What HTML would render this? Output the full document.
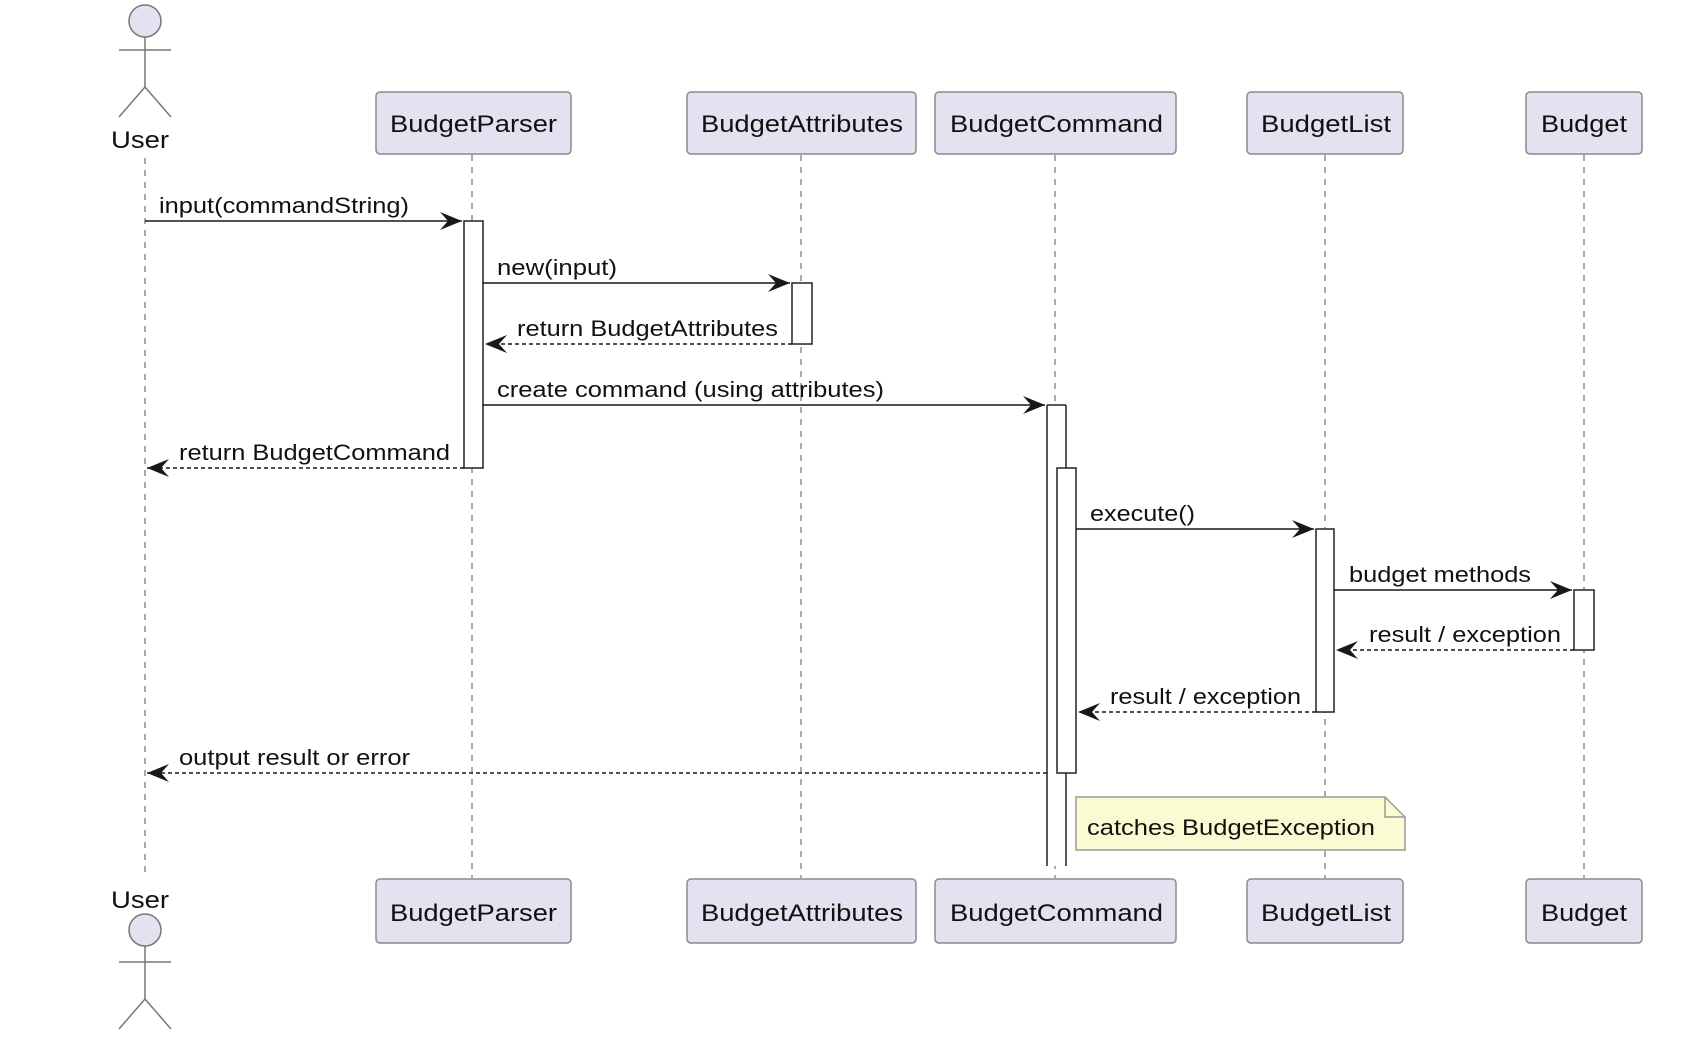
<!DOCTYPE html>
<html><head><meta charset="utf-8"><style>html,body{margin:0;padding:0;background:#fff}svg{display:block}text{font-family:"Liberation Sans",sans-serif;fill:#111}</style></head><body>
<svg width="1708" height="1063" viewBox="0 0 1708 1063" xmlns="http://www.w3.org/2000/svg">
<defs>
<marker id="a" markerWidth="24" markerHeight="18" refX="22" refY="9" orient="auto" markerUnits="userSpaceOnUse"><polygon points="0,0 22,9 0,18 8,9" fill="#181818"/></marker>
</defs>
<g stroke="#555" stroke-width="1" stroke-dasharray="6,6">
<line x1="145" y1="158" x2="145" y2="875"/>
<line x1="472" y1="155" x2="472" y2="878"/>
<line x1="801" y1="155" x2="801" y2="878"/>
<line x1="1055" y1="155" x2="1055" y2="878"/>
<line x1="1325" y1="155" x2="1325" y2="878"/>
<line x1="1584" y1="155" x2="1584" y2="878"/>
</g>
<g fill="#E2E2F0" stroke="#8a8a8a" stroke-width="1.5">
<rect x="376" y="92" width="195" height="62" rx="4"/>
<rect x="687" y="92" width="229" height="62" rx="4"/>
<rect x="935" y="92" width="241" height="62" rx="4"/>
<rect x="1247" y="92" width="156" height="62" rx="4"/>
<rect x="1526" y="92" width="116" height="62" rx="4"/>
<rect x="376" y="879" width="195" height="64" rx="4"/>
<rect x="687" y="879" width="229" height="64" rx="4"/>
<rect x="935" y="879" width="241" height="64" rx="4"/>
<rect x="1247" y="879" width="156" height="64" rx="4"/>
<rect x="1526" y="879" width="116" height="64" rx="4"/>
</g>
<g font-size="24">
<text x="390" y="132" textLength="167" lengthAdjust="spacingAndGlyphs">BudgetParser</text>
<text x="701" y="132" textLength="202" lengthAdjust="spacingAndGlyphs">BudgetAttributes</text>
<text x="950" y="132" textLength="213" lengthAdjust="spacingAndGlyphs">BudgetCommand</text>
<text x="1261" y="132" textLength="130" lengthAdjust="spacingAndGlyphs">BudgetList</text>
<text x="1541" y="132" textLength="86" lengthAdjust="spacingAndGlyphs">Budget</text>
<text x="390" y="921" textLength="167" lengthAdjust="spacingAndGlyphs">BudgetParser</text>
<text x="701" y="921" textLength="202" lengthAdjust="spacingAndGlyphs">BudgetAttributes</text>
<text x="950" y="921" textLength="213" lengthAdjust="spacingAndGlyphs">BudgetCommand</text>
<text x="1261" y="921" textLength="130" lengthAdjust="spacingAndGlyphs">BudgetList</text>
<text x="1541" y="921" textLength="86" lengthAdjust="spacingAndGlyphs">Budget</text>
<text x="111" y="148" textLength="58" lengthAdjust="spacingAndGlyphs">User</text>
<text x="111" y="908" textLength="58" lengthAdjust="spacingAndGlyphs">User</text>
</g>
<g stroke="#777" stroke-width="1.5" fill="none">
<circle cx="145" cy="21" r="16" fill="#E2E2F0"/>
<line x1="145" y1="37" x2="145" y2="87"/><line x1="119" y1="50" x2="171" y2="50"/>
<polyline points="119,117 145,87 171,117"/>
<circle cx="145" cy="930" r="16" fill="#E2E2F0"/>
<line x1="145" y1="946" x2="145" y2="999"/><line x1="119" y1="962" x2="171" y2="962"/>
<polyline points="119,1029 145,999 171,1029"/>
</g>
<rect x="1047" y="405" width="19" height="461" fill="#fff" stroke="none"/>
<g fill="#fff" stroke="#222" stroke-width="1.5">
<rect x="464" y="221" width="19" height="247"/>
<rect x="792" y="283" width="20" height="61"/>
<line x1="1047" y1="405" x2="1047" y2="866"/><line x1="1066" y1="405" x2="1066" y2="866"/><line x1="1047" y1="405" x2="1066" y2="405"/>
<rect x="1057" y="468" width="19" height="305"/>
<rect x="1316" y="529" width="18" height="183"/>
<rect x="1574" y="590" width="20" height="60"/>
</g>
<g stroke="#181818" stroke-width="1.5" fill="none">
<line x1="145" y1="221" x2="462" y2="221" marker-end="url(#a)"/>
<line x1="483" y1="283" x2="790" y2="283" marker-end="url(#a)"/>
<line x1="792" y1="344" x2="485" y2="344" stroke-dasharray="4,3" marker-end="url(#a)"/>
<line x1="483" y1="405" x2="1045" y2="405" marker-end="url(#a)"/>
<line x1="464" y1="468" x2="147" y2="468" stroke-dasharray="4,3" marker-end="url(#a)"/>
<line x1="1076" y1="529" x2="1314" y2="529" marker-end="url(#a)"/>
<line x1="1334" y1="590" x2="1572" y2="590" marker-end="url(#a)"/>
<line x1="1574" y1="650" x2="1336" y2="650" stroke-dasharray="4,3" marker-end="url(#a)"/>
<line x1="1316" y1="712" x2="1078" y2="712" stroke-dasharray="4,3" marker-end="url(#a)"/>
<line x1="1047" y1="773" x2="147" y2="773" stroke-dasharray="4,3" marker-end="url(#a)"/>
</g>
<g font-size="22">
<text x="159" y="213" textLength="250" lengthAdjust="spacingAndGlyphs">input(commandString)</text>
<text x="497" y="275" textLength="120" lengthAdjust="spacingAndGlyphs">new(input)</text>
<text x="517" y="336" textLength="261" lengthAdjust="spacingAndGlyphs">return BudgetAttributes</text>
<text x="497" y="397" textLength="387" lengthAdjust="spacingAndGlyphs">create command (using attributes)</text>
<text x="179" y="460" textLength="271" lengthAdjust="spacingAndGlyphs">return BudgetCommand</text>
<text x="1090" y="521" textLength="105" lengthAdjust="spacingAndGlyphs">execute()</text>
<text x="1349" y="582" textLength="182" lengthAdjust="spacingAndGlyphs">budget methods</text>
<text x="1369" y="642" textLength="192" lengthAdjust="spacingAndGlyphs">result / exception</text>
<text x="1110" y="704" textLength="191" lengthAdjust="spacingAndGlyphs">result / exception</text>
<text x="179" y="765" textLength="231" lengthAdjust="spacingAndGlyphs">output result or error</text>
</g>
<path d="M1076,797 L1385,797 L1405,817 L1405,850 L1076,850 Z" fill="#FBFBD3" stroke="#999" stroke-width="1.5"/>
<path d="M1385,797 L1385,817 L1405,817" fill="none" stroke="#999" stroke-width="1.5"/>
<text x="1087" y="835" font-size="22" textLength="288" lengthAdjust="spacingAndGlyphs">catches BudgetException</text>
</svg>
</body></html>
